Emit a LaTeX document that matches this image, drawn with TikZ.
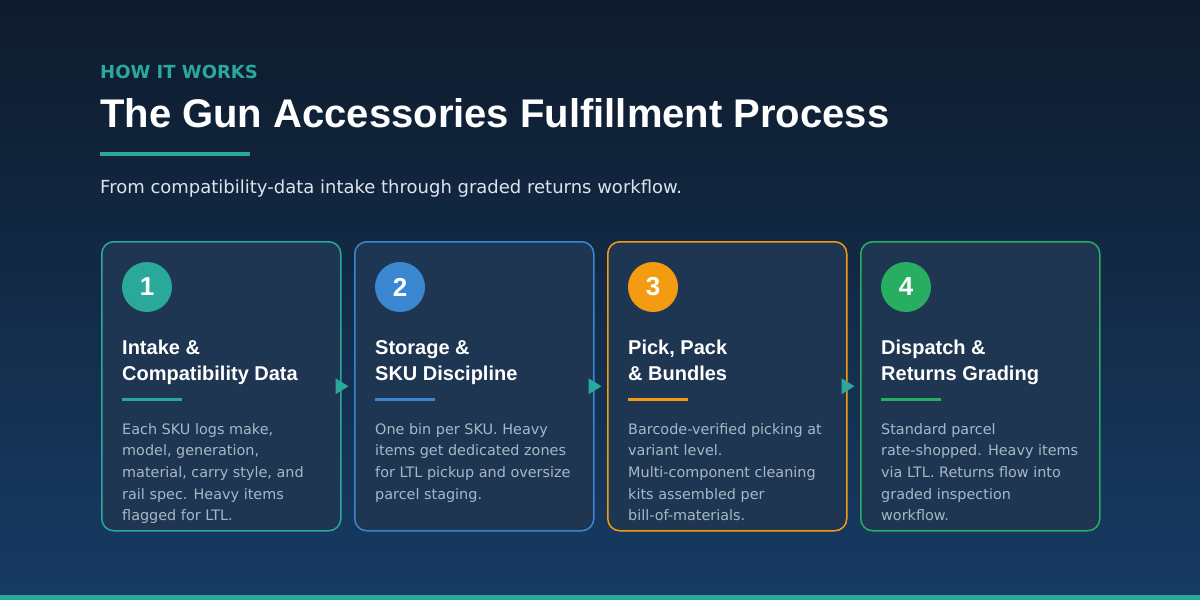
\documentclass[tikz,border=0pt]{standalone}
\usepackage{fontspec}
\setmainfont{DejaVu Sans}
\newfontfamily\headfont{Liberation Sans}
\usetikzlibrary{positioning, calc}

\definecolor{bgtop}{RGB}{14,27,44}
\definecolor{bgbot}{RGB}{23,59,100}
\definecolor{cardfill}{RGB}{31,54,82}
\definecolor{accteal}{RGB}{42,168,154}
\definecolor{accblue}{RGB}{59,134,208}
\definecolor{accorange}{RGB}{243,156,18}
\definecolor{accgreen}{RGB}{39,174,96}
\definecolor{subgray}{RGB}{220,228,236}
\definecolor{bodygray}{RGB}{168,183,200}

\begin{document}
\begin{tikzpicture}[x=1pt, y=-1pt,
    card/.style={draw=#1, line width=1.5pt, fill=cardfill, rounded corners=12pt,
        minimum width=239pt, minimum height=289pt, anchor=north west, inner sep=0pt},
    badge/.style={circle, fill=#1, minimum size=50pt, inner sep=0pt, text=white,
        font=\headfont\bfseries\fontsize{26}{26}\selectfont},
    % base anchor of a multi-line node sits on its last line
    cardtitle/.style={anchor=base west, align=left, inner sep=0pt, text=white,
        font=\headfont\bfseries\fontsize{20}{26}\selectfont},
    cardbody/.style={anchor=base west, align=left, inner sep=0pt, text=bodygray,
        font=\fontsize{14.4}{21.7}\selectfont}
]
    \useasboundingbox (0,0) rectangle (1200,600);
    \shade[top color=bgtop, bottom color=bgbot] (0,0) rectangle (1200,600);
    \fill[accteal] (0,595) rectangle (1200,600);

    % header
    \node[anchor=base west, inner sep=0pt, text=accteal, font=\bfseries\fontsize{18}{18}\selectfont]
        (kicker) at (100,78) {HOW IT WORKS};
    \node[anchor=base west, inner sep=0pt, text=white, font=\headfont\bfseries\fontsize{40}{40}\selectfont]
        (title) at (100,127) {The Gun Accessories Fulfillment Process};
    \fill[accteal] (100,152) rectangle (250,156);
    \node[anchor=base west, inner sep=0pt, text=subgray, font=\fontsize{18}{18}\selectfont]
        (sub) at (100,193) {From compatibility-data intake through graded returns workflow.};

    % step cards
    \foreach \i/\x/\col in {1/101/accteal, 2/354/accblue, 3/607/accorange, 4/860/accgreen}{
        \node[card=\col] (c\i) at (\x,241) {};
        \node[badge=\col] (n\i) at ($(c\i.north west)+(46,46)$) {\i};
        \fill[\col] ($(c\i.north west)+(21,157)$) rectangle +(60,3);
    }

    \node[cardtitle] (t1) at ($(c1.north west)+(21,139)$) {Intake \&\\Compatibility Data};
    \node[cardtitle] (t2) at ($(c2.north west)+(21,139)$) {Storage \&\\SKU Discipline};
    \node[cardtitle] (t3) at ($(c3.north west)+(21,139)$) {Pick, Pack\\\& Bundles};
    \node[cardtitle] (t4) at ($(c4.north west)+(21,139)$) {Dispatch \&\\Returns Grading};

    \node[cardbody] (b1) at ($(c1.north west)+(21,279.8)$)
        {Each SKU logs make,\\model, generation,\\material, carry style, and\\rail spec. Heavy items\\flagged for LTL.};
    \node[cardbody] (b2) at ($(c2.north west)+(21,258.1)$)
        {One bin per SKU. Heavy\\items get dedicated zones\\for LTL pickup and oversize\\parcel staging.};
    \node[cardbody] (b3) at ($(c3.north west)+(21,279.8)$)
        {Barcode-verified picking at\\variant level.\\Multi-component cleaning\\kits assembled per\\bill-of-materials.};
    \node[cardbody] (b4) at ($(c4.north west)+(21,279.8)$)
        {Standard parcel\\rate-shopped. Heavy items\\via LTL. Returns flow into\\graded inspection\\workflow.};

    % arrows between steps
    \foreach \i in {1,2,3}
        \fill[accteal] ($(c\i.east)+(-6,-8)$) -- ($(c\i.east)+(7,0)$) -- ($(c\i.east)+(-6,8)$) -- cycle;
\end{tikzpicture}
\end{document}
